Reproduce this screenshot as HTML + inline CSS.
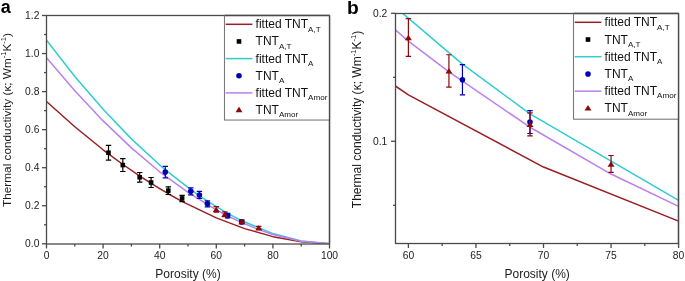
<!DOCTYPE html>
<html><head><meta charset="utf-8"><style>
html,body{margin:0;padding:0;background:#fff;width:685px;height:281px;overflow:hidden}
svg{display:block;will-change:transform}
text{font-family:"Liberation Sans", sans-serif}
</style></head><body>
<svg width="685" height="281" viewBox="0 0 685 281">
<rect x="0" y="0" width="685" height="281" fill="#fff"/>
<clipPath id="cl"><rect x="46.5" y="15.5" width="283.0" height="228.5"/></clipPath>
<polyline points="46.50,101.49 74.80,126.79 103.10,149.79 108.48,153.90 122.91,164.50 139.89,176.18 151.21,183.49 159.70,188.72 168.19,193.72 182.34,201.58 216.30,217.87 244.60,228.60 272.90,236.65 301.20,241.83 329.50,243.80" fill="none" stroke="#9a1f24" stroke-width="1.5" clip-path="url(#cl)" stroke-linejoin="round"/>
<polyline points="46.50,40.23 74.80,76.42 103.10,109.32 131.40,138.87 159.70,165.00 165.36,169.81 190.83,189.71 199.32,195.70 207.81,201.37 227.62,213.30 241.77,220.70 272.90,233.57 301.20,240.98 329.50,243.80" fill="none" stroke="#2fcdd0" stroke-width="1.5" clip-path="url(#cl)" stroke-linejoin="round"/>
<polyline points="46.50,57.74 74.80,90.82 103.10,120.89 131.40,147.89 159.70,171.78 188.00,192.47 216.30,209.89 224.79,214.47 241.77,222.68 258.75,229.64 272.90,234.45 301.20,241.22 329.50,243.80" fill="none" stroke="#bb80ec" stroke-width="1.5" clip-path="url(#cl)" stroke-linejoin="round"/>
<g clip-path="url(#clb)"><line x1="108.50" y1="145.40" x2="108.50" y2="160.10" stroke="#000" stroke-width="1.2"/><line x1="105.80" y1="145.40" x2="111.20" y2="145.40" stroke="#000" stroke-width="1.2"/><line x1="105.80" y1="160.10" x2="111.20" y2="160.10" stroke="#000" stroke-width="1.2"/><line x1="122.80" y1="158.60" x2="122.80" y2="171.50" stroke="#000" stroke-width="1.2"/><line x1="120.10" y1="158.60" x2="125.50" y2="158.60" stroke="#000" stroke-width="1.2"/><line x1="120.10" y1="171.50" x2="125.50" y2="171.50" stroke="#000" stroke-width="1.2"/><line x1="139.70" y1="172.50" x2="139.70" y2="182.10" stroke="#000" stroke-width="1.2"/><line x1="137.00" y1="172.50" x2="142.40" y2="172.50" stroke="#000" stroke-width="1.2"/><line x1="137.00" y1="182.10" x2="142.40" y2="182.10" stroke="#000" stroke-width="1.2"/><line x1="151.10" y1="177.50" x2="151.10" y2="187.50" stroke="#000" stroke-width="1.2"/><line x1="148.40" y1="177.50" x2="153.80" y2="177.50" stroke="#000" stroke-width="1.2"/><line x1="148.40" y1="187.50" x2="153.80" y2="187.50" stroke="#000" stroke-width="1.2"/><line x1="168.30" y1="186.80" x2="168.30" y2="194.50" stroke="#000" stroke-width="1.2"/><line x1="165.60" y1="186.80" x2="171.00" y2="186.80" stroke="#000" stroke-width="1.2"/><line x1="165.60" y1="194.50" x2="171.00" y2="194.50" stroke="#000" stroke-width="1.2"/><line x1="182.10" y1="195.30" x2="182.10" y2="201.60" stroke="#000" stroke-width="1.2"/><line x1="179.40" y1="195.30" x2="184.80" y2="195.30" stroke="#000" stroke-width="1.2"/><line x1="179.40" y1="201.60" x2="184.80" y2="201.60" stroke="#000" stroke-width="1.2"/><rect x="106.20" y="150.45" width="4.6" height="4.6" fill="#000"/><rect x="120.50" y="162.75" width="4.6" height="4.6" fill="#000"/><rect x="137.40" y="175.00" width="4.6" height="4.6" fill="#000"/><rect x="148.80" y="180.20" width="4.6" height="4.6" fill="#000"/><rect x="166.00" y="188.35" width="4.6" height="4.6" fill="#000"/><rect x="179.80" y="196.15" width="4.6" height="4.6" fill="#000"/><line x1="165.30" y1="166.40" x2="165.30" y2="177.80" stroke="#0000b4" stroke-width="1.2"/><line x1="162.60" y1="166.40" x2="168.00" y2="166.40" stroke="#0000b4" stroke-width="1.2"/><line x1="162.60" y1="177.80" x2="168.00" y2="177.80" stroke="#0000b4" stroke-width="1.2"/><line x1="190.80" y1="187.80" x2="190.80" y2="194.80" stroke="#0000b4" stroke-width="1.2"/><line x1="188.10" y1="187.80" x2="193.50" y2="187.80" stroke="#0000b4" stroke-width="1.2"/><line x1="188.10" y1="194.80" x2="193.50" y2="194.80" stroke="#0000b4" stroke-width="1.2"/><line x1="199.40" y1="191.40" x2="199.40" y2="198.50" stroke="#0000b4" stroke-width="1.2"/><line x1="196.70" y1="191.40" x2="202.10" y2="191.40" stroke="#0000b4" stroke-width="1.2"/><line x1="196.70" y1="198.50" x2="202.10" y2="198.50" stroke="#0000b4" stroke-width="1.2"/><line x1="207.40" y1="200.80" x2="207.40" y2="206.80" stroke="#0000b4" stroke-width="1.2"/><line x1="204.70" y1="200.80" x2="210.10" y2="200.80" stroke="#0000b4" stroke-width="1.2"/><line x1="204.70" y1="206.80" x2="210.10" y2="206.80" stroke="#0000b4" stroke-width="1.2"/><line x1="227.62" y1="213.38" x2="227.62" y2="217.87" stroke="#0000b4" stroke-width="1.2"/><line x1="224.92" y1="213.38" x2="230.32" y2="213.38" stroke="#0000b4" stroke-width="1.2"/><line x1="224.92" y1="217.87" x2="230.32" y2="217.87" stroke="#0000b4" stroke-width="1.2"/><line x1="241.77" y1="220.23" x2="241.77" y2="223.61" stroke="#0000b4" stroke-width="1.2"/><line x1="239.07" y1="220.23" x2="244.47" y2="220.23" stroke="#0000b4" stroke-width="1.2"/><line x1="239.07" y1="223.61" x2="244.47" y2="223.61" stroke="#0000b4" stroke-width="1.2"/><circle cx="165.30" cy="172.10" r="2.8" fill="#0000b4"/><circle cx="190.80" cy="191.30" r="2.8" fill="#0000b4"/><circle cx="199.40" cy="194.95" r="2.8" fill="#0000b4"/><circle cx="207.40" cy="203.80" r="2.8" fill="#0000b4"/><circle cx="227.62" cy="215.62" r="2.8" fill="#0000b4"/><circle cx="241.77" cy="221.92" r="2.8" fill="#0000b4"/><line x1="216.30" y1="206.55" x2="216.30" y2="212.14" stroke="#8c0a0a" stroke-width="1.2"/><line x1="213.60" y1="206.55" x2="219.00" y2="206.55" stroke="#8c0a0a" stroke-width="1.2"/><line x1="213.60" y1="212.14" x2="219.00" y2="212.14" stroke="#8c0a0a" stroke-width="1.2"/><line x1="224.79" y1="211.91" x2="224.79" y2="216.71" stroke="#8c0a0a" stroke-width="1.2"/><line x1="222.09" y1="211.91" x2="227.49" y2="211.91" stroke="#8c0a0a" stroke-width="1.2"/><line x1="222.09" y1="216.71" x2="227.49" y2="216.71" stroke="#8c0a0a" stroke-width="1.2"/><line x1="241.77" y1="219.73" x2="241.77" y2="223.16" stroke="#8c0a0a" stroke-width="1.2"/><line x1="239.07" y1="219.73" x2="244.47" y2="219.73" stroke="#8c0a0a" stroke-width="1.2"/><line x1="239.07" y1="223.16" x2="244.47" y2="223.16" stroke="#8c0a0a" stroke-width="1.2"/><line x1="258.75" y1="226.47" x2="258.75" y2="228.98" stroke="#8c0a0a" stroke-width="1.2"/><line x1="256.05" y1="226.47" x2="261.45" y2="226.47" stroke="#8c0a0a" stroke-width="1.2"/><line x1="256.05" y1="228.98" x2="261.45" y2="228.98" stroke="#8c0a0a" stroke-width="1.2"/><polygon points="216.30,206.65 219.80,212.05 212.80,212.05" fill="#8c0a0a"/><polygon points="224.79,211.61 228.29,217.01 221.29,217.01" fill="#8c0a0a"/><polygon points="241.77,218.75 245.27,224.15 238.27,224.15" fill="#8c0a0a"/><polygon points="258.75,225.02 262.25,230.42 255.25,230.42" fill="#8c0a0a"/></g>
<clipPath id="clb"><rect x="46.5" y="15.0" width="283.0" height="229.5"/></clipPath>
<rect x="46.5" y="15.5" width="283.0" height="228.5" fill="none" stroke="#4a4a4a" stroke-width="1.3"/>
<line x1="46.50" y1="244.00" x2="46.50" y2="248.50" stroke="#4a4a4a" stroke-width="1.3" />
<text x="46.50" y="259.40" font-size="10.3" text-anchor="middle" font-weight="normal" fill="#222" >0</text>
<line x1="103.10" y1="244.00" x2="103.10" y2="248.50" stroke="#4a4a4a" stroke-width="1.3" />
<text x="103.10" y="259.40" font-size="10.3" text-anchor="middle" font-weight="normal" fill="#222" >20</text>
<line x1="159.70" y1="244.00" x2="159.70" y2="248.50" stroke="#4a4a4a" stroke-width="1.3" />
<text x="159.70" y="259.40" font-size="10.3" text-anchor="middle" font-weight="normal" fill="#222" >40</text>
<line x1="216.30" y1="244.00" x2="216.30" y2="248.50" stroke="#4a4a4a" stroke-width="1.3" />
<text x="216.30" y="259.40" font-size="10.3" text-anchor="middle" font-weight="normal" fill="#222" >60</text>
<line x1="272.90" y1="244.00" x2="272.90" y2="248.50" stroke="#4a4a4a" stroke-width="1.3" />
<text x="272.90" y="259.40" font-size="10.3" text-anchor="middle" font-weight="normal" fill="#222" >80</text>
<line x1="329.50" y1="244.00" x2="329.50" y2="248.50" stroke="#4a4a4a" stroke-width="1.3" />
<text x="329.50" y="259.40" font-size="10.3" text-anchor="middle" font-weight="normal" fill="#222" >100</text>
<line x1="74.80" y1="244.00" x2="74.80" y2="246.50" stroke="#4a4a4a" stroke-width="1.3" />
<line x1="131.40" y1="244.00" x2="131.40" y2="246.50" stroke="#4a4a4a" stroke-width="1.3" />
<line x1="188.00" y1="244.00" x2="188.00" y2="246.50" stroke="#4a4a4a" stroke-width="1.3" />
<line x1="244.60" y1="244.00" x2="244.60" y2="246.50" stroke="#4a4a4a" stroke-width="1.3" />
<line x1="301.20" y1="244.00" x2="301.20" y2="246.50" stroke="#4a4a4a" stroke-width="1.3" />
<line x1="42.00" y1="243.80" x2="46.50" y2="243.80" stroke="#4a4a4a" stroke-width="1.3" />
<text x="39.40" y="247.40" font-size="10.3" text-anchor="end" font-weight="normal" fill="#222" >0.0</text>
<line x1="42.00" y1="205.75" x2="46.50" y2="205.75" stroke="#4a4a4a" stroke-width="1.3" />
<text x="39.40" y="209.35" font-size="10.3" text-anchor="end" font-weight="normal" fill="#222" >0.2</text>
<line x1="42.00" y1="167.70" x2="46.50" y2="167.70" stroke="#4a4a4a" stroke-width="1.3" />
<text x="39.40" y="171.30" font-size="10.3" text-anchor="end" font-weight="normal" fill="#222" >0.4</text>
<line x1="42.00" y1="129.65" x2="46.50" y2="129.65" stroke="#4a4a4a" stroke-width="1.3" />
<text x="39.40" y="133.25" font-size="10.3" text-anchor="end" font-weight="normal" fill="#222" >0.6</text>
<line x1="42.00" y1="91.60" x2="46.50" y2="91.60" stroke="#4a4a4a" stroke-width="1.3" />
<text x="39.40" y="95.20" font-size="10.3" text-anchor="end" font-weight="normal" fill="#222" >0.8</text>
<line x1="42.00" y1="53.55" x2="46.50" y2="53.55" stroke="#4a4a4a" stroke-width="1.3" />
<text x="39.40" y="57.15" font-size="10.3" text-anchor="end" font-weight="normal" fill="#222" >1.0</text>
<line x1="42.00" y1="15.50" x2="46.50" y2="15.50" stroke="#4a4a4a" stroke-width="1.3" />
<text x="39.40" y="19.10" font-size="10.3" text-anchor="end" font-weight="normal" fill="#222" >1.2</text>
<line x1="44.00" y1="224.78" x2="46.50" y2="224.78" stroke="#4a4a4a" stroke-width="1.3" />
<line x1="44.00" y1="186.73" x2="46.50" y2="186.73" stroke="#4a4a4a" stroke-width="1.3" />
<line x1="44.00" y1="148.68" x2="46.50" y2="148.68" stroke="#4a4a4a" stroke-width="1.3" />
<line x1="44.00" y1="110.63" x2="46.50" y2="110.63" stroke="#4a4a4a" stroke-width="1.3" />
<line x1="44.00" y1="72.58" x2="46.50" y2="72.58" stroke="#4a4a4a" stroke-width="1.3" />
<line x1="44.00" y1="34.53" x2="46.50" y2="34.53" stroke="#4a4a4a" stroke-width="1.3" />
<clipPath id="cr"><rect x="395.5" y="13.5" width="283.0" height="230.0"/></clipPath>
<polyline points="-402.20,-688.14 -267.10,-517.92 -132.00,-363.19 -106.33,-335.56 -37.43,-264.24 43.63,-185.64 97.67,-136.48 138.20,-101.31 178.73,-67.62 246.28,-14.78 408.40,94.82 543.50,167.06 678.60,221.17 813.70,256.02 948.80,269.30" fill="none" stroke="#9a1f24" stroke-width="1.5" clip-path="url(#cr)" stroke-linejoin="round"/>
<polyline points="-402.20,-1100.30 -267.10,-856.80 -132.00,-635.46 3.10,-436.67 138.20,-260.85 165.22,-228.49 286.81,-94.60 327.34,-54.29 367.87,-16.18 462.44,64.09 529.99,113.87 678.60,200.45 813.70,250.31 948.80,269.30" fill="none" stroke="#2fcdd0" stroke-width="1.5" clip-path="url(#cr)" stroke-linejoin="round"/>
<polyline points="-402.20,-982.54 -267.10,-759.97 -132.00,-557.67 3.10,-375.97 138.20,-215.27 273.30,-76.03 408.40,41.17 448.93,71.94 529.99,127.23 611.05,174.04 678.60,206.37 813.70,251.94 948.80,269.30" fill="none" stroke="#bb80ec" stroke-width="1.5" clip-path="url(#cr)" stroke-linejoin="round"/>
<g clip-path="url(#crb)"><line x1="-106.22" y1="-392.73" x2="-106.22" y2="-293.83" stroke="#000" stroke-width="1.2"/><line x1="-108.92" y1="-392.73" x2="-103.52" y2="-392.73" stroke="#000" stroke-width="1.2"/><line x1="-108.92" y1="-293.83" x2="-103.52" y2="-293.83" stroke="#000" stroke-width="1.2"/><line x1="-37.96" y1="-303.92" x2="-37.96" y2="-217.13" stroke="#000" stroke-width="1.2"/><line x1="-40.66" y1="-303.92" x2="-35.26" y2="-303.92" stroke="#000" stroke-width="1.2"/><line x1="-40.66" y1="-217.13" x2="-35.26" y2="-217.13" stroke="#000" stroke-width="1.2"/><line x1="42.72" y1="-210.41" x2="42.72" y2="-145.82" stroke="#000" stroke-width="1.2"/><line x1="40.02" y1="-210.41" x2="45.42" y2="-210.41" stroke="#000" stroke-width="1.2"/><line x1="40.02" y1="-145.82" x2="45.42" y2="-145.82" stroke="#000" stroke-width="1.2"/><line x1="97.14" y1="-176.77" x2="97.14" y2="-109.49" stroke="#000" stroke-width="1.2"/><line x1="94.44" y1="-176.77" x2="99.84" y2="-176.77" stroke="#000" stroke-width="1.2"/><line x1="94.44" y1="-109.49" x2="99.84" y2="-109.49" stroke="#000" stroke-width="1.2"/><line x1="179.26" y1="-114.20" x2="179.26" y2="-62.39" stroke="#000" stroke-width="1.2"/><line x1="176.56" y1="-114.20" x2="181.96" y2="-114.20" stroke="#000" stroke-width="1.2"/><line x1="176.56" y1="-62.39" x2="181.96" y2="-62.39" stroke="#000" stroke-width="1.2"/><line x1="245.13" y1="-57.01" x2="245.13" y2="-14.62" stroke="#000" stroke-width="1.2"/><line x1="242.43" y1="-57.01" x2="247.83" y2="-57.01" stroke="#000" stroke-width="1.2"/><line x1="242.43" y1="-14.62" x2="247.83" y2="-14.62" stroke="#000" stroke-width="1.2"/><rect x="-108.52" y="-345.58" width="4.6" height="4.6" fill="#000"/><rect x="-40.26" y="-262.83" width="4.6" height="4.6" fill="#000"/><rect x="40.42" y="-180.41" width="4.6" height="4.6" fill="#000"/><rect x="94.84" y="-145.43" width="4.6" height="4.6" fill="#000"/><rect x="176.96" y="-90.59" width="4.6" height="4.6" fill="#000"/><rect x="242.83" y="-38.11" width="4.6" height="4.6" fill="#000"/><line x1="164.93" y1="-251.45" x2="164.93" y2="-174.75" stroke="#0000b4" stroke-width="1.2"/><line x1="162.23" y1="-251.45" x2="167.63" y2="-251.45" stroke="#0000b4" stroke-width="1.2"/><line x1="162.23" y1="-174.75" x2="167.63" y2="-174.75" stroke="#0000b4" stroke-width="1.2"/><line x1="286.67" y1="-107.47" x2="286.67" y2="-60.37" stroke="#0000b4" stroke-width="1.2"/><line x1="283.97" y1="-107.47" x2="289.37" y2="-107.47" stroke="#0000b4" stroke-width="1.2"/><line x1="283.97" y1="-60.37" x2="289.37" y2="-60.37" stroke="#0000b4" stroke-width="1.2"/><line x1="327.72" y1="-83.25" x2="327.72" y2="-35.48" stroke="#0000b4" stroke-width="1.2"/><line x1="325.02" y1="-83.25" x2="330.42" y2="-83.25" stroke="#0000b4" stroke-width="1.2"/><line x1="325.02" y1="-35.48" x2="330.42" y2="-35.48" stroke="#0000b4" stroke-width="1.2"/><line x1="365.91" y1="-20.00" x2="365.91" y2="20.36" stroke="#0000b4" stroke-width="1.2"/><line x1="363.21" y1="-20.00" x2="368.61" y2="-20.00" stroke="#0000b4" stroke-width="1.2"/><line x1="363.21" y1="20.36" x2="368.61" y2="20.36" stroke="#0000b4" stroke-width="1.2"/><line x1="462.44" y1="64.63" x2="462.44" y2="94.84" stroke="#0000b4" stroke-width="1.2"/><line x1="459.74" y1="64.63" x2="465.14" y2="64.63" stroke="#0000b4" stroke-width="1.2"/><line x1="459.74" y1="94.84" x2="465.14" y2="94.84" stroke="#0000b4" stroke-width="1.2"/><line x1="529.99" y1="110.71" x2="529.99" y2="133.49" stroke="#0000b4" stroke-width="1.2"/><line x1="527.29" y1="110.71" x2="532.69" y2="110.71" stroke="#0000b4" stroke-width="1.2"/><line x1="527.29" y1="133.49" x2="532.69" y2="133.49" stroke="#0000b4" stroke-width="1.2"/><circle cx="164.93" cy="-213.10" r="2.8" fill="#0000b4"/><circle cx="286.67" cy="-83.92" r="2.8" fill="#0000b4"/><circle cx="327.72" cy="-59.36" r="2.8" fill="#0000b4"/><circle cx="365.91" cy="0.18" r="2.8" fill="#0000b4"/><circle cx="462.44" cy="79.73" r="2.8" fill="#0000b4"/><circle cx="529.99" cy="122.10" r="2.8" fill="#0000b4"/><line x1="408.40" y1="18.68" x2="408.40" y2="56.31" stroke="#8c0a0a" stroke-width="1.2"/><line x1="405.70" y1="18.68" x2="411.10" y2="18.68" stroke="#8c0a0a" stroke-width="1.2"/><line x1="405.70" y1="56.31" x2="411.10" y2="56.31" stroke="#8c0a0a" stroke-width="1.2"/><line x1="448.93" y1="54.77" x2="448.93" y2="87.03" stroke="#8c0a0a" stroke-width="1.2"/><line x1="446.23" y1="54.77" x2="451.63" y2="54.77" stroke="#8c0a0a" stroke-width="1.2"/><line x1="446.23" y1="87.03" x2="451.63" y2="87.03" stroke="#8c0a0a" stroke-width="1.2"/><line x1="529.99" y1="112.88" x2="529.99" y2="135.92" stroke="#8c0a0a" stroke-width="1.2"/><line x1="527.29" y1="112.88" x2="532.69" y2="112.88" stroke="#8c0a0a" stroke-width="1.2"/><line x1="527.29" y1="135.92" x2="532.69" y2="135.92" stroke="#8c0a0a" stroke-width="1.2"/><line x1="611.05" y1="155.51" x2="611.05" y2="172.40" stroke="#8c0a0a" stroke-width="1.2"/><line x1="608.35" y1="155.51" x2="613.75" y2="155.51" stroke="#8c0a0a" stroke-width="1.2"/><line x1="608.35" y1="172.40" x2="613.75" y2="172.40" stroke="#8c0a0a" stroke-width="1.2"/><polygon points="408.40,34.79 411.90,40.19 404.90,40.19" fill="#8c0a0a"/><polygon points="448.93,68.20 452.43,73.60 445.43,73.60" fill="#8c0a0a"/><polygon points="529.99,121.70 533.49,127.10 526.49,127.10" fill="#8c0a0a"/><polygon points="611.05,161.26 614.55,166.66 607.55,166.66" fill="#8c0a0a"/></g>
<clipPath id="crb"><rect x="395.5" y="13.0" width="283.0" height="231.0"/></clipPath>
<rect x="395.5" y="13.5" width="283.0" height="230.0" fill="none" stroke="#4a4a4a" stroke-width="1.3"/>
<line x1="408.40" y1="243.50" x2="408.40" y2="248.00" stroke="#4a4a4a" stroke-width="1.3" />
<text x="408.40" y="259.20" font-size="10.3" text-anchor="middle" font-weight="normal" fill="#222" >60</text>
<line x1="475.95" y1="243.50" x2="475.95" y2="248.00" stroke="#4a4a4a" stroke-width="1.3" />
<text x="475.95" y="259.20" font-size="10.3" text-anchor="middle" font-weight="normal" fill="#222" >65</text>
<line x1="543.50" y1="243.50" x2="543.50" y2="248.00" stroke="#4a4a4a" stroke-width="1.3" />
<text x="543.50" y="259.20" font-size="10.3" text-anchor="middle" font-weight="normal" fill="#222" >70</text>
<line x1="611.05" y1="243.50" x2="611.05" y2="248.00" stroke="#4a4a4a" stroke-width="1.3" />
<text x="611.05" y="259.20" font-size="10.3" text-anchor="middle" font-weight="normal" fill="#222" >75</text>
<line x1="678.60" y1="243.50" x2="678.60" y2="248.00" stroke="#4a4a4a" stroke-width="1.3" />
<text x="678.60" y="259.20" font-size="10.3" text-anchor="middle" font-weight="normal" fill="#222" >80</text>
<line x1="442.17" y1="243.50" x2="442.17" y2="246.00" stroke="#4a4a4a" stroke-width="1.3" />
<line x1="509.72" y1="243.50" x2="509.72" y2="246.00" stroke="#4a4a4a" stroke-width="1.3" />
<line x1="577.27" y1="243.50" x2="577.27" y2="246.00" stroke="#4a4a4a" stroke-width="1.3" />
<line x1="644.82" y1="243.50" x2="644.82" y2="246.00" stroke="#4a4a4a" stroke-width="1.3" />
<line x1="391.00" y1="141.30" x2="395.50" y2="141.30" stroke="#4a4a4a" stroke-width="1.3" />
<text x="387.30" y="144.90" font-size="10.3" text-anchor="end" font-weight="normal" fill="#222" >0.1</text>
<line x1="391.00" y1="13.30" x2="395.50" y2="13.30" stroke="#4a4a4a" stroke-width="1.3" />
<text x="387.30" y="16.90" font-size="10.3" text-anchor="end" font-weight="normal" fill="#222" >0.2</text>
<line x1="393.00" y1="205.30" x2="395.50" y2="205.30" stroke="#4a4a4a" stroke-width="1.3" />
<line x1="393.00" y1="77.30" x2="395.50" y2="77.30" stroke="#4a4a4a" stroke-width="1.3" />
<rect x="224.5" y="15.5" width="105.0" height="104.55" fill="#fff" stroke="#7a7a7a" stroke-width="1.1"/>
<line x1="225.70" y1="24.30" x2="252.40" y2="24.30" stroke="#9a1f24" stroke-width="1.5" />
<text x="255.60" y="28.30" font-size="12" fill="#111">fitted TNT<tspan font-size="8.1" dy="3.3">A,T</tspan></text>
<rect x="236.70" y="39.15" width="4.6" height="4.6" fill="#000"/>
<text x="255.60" y="45.45" font-size="12" fill="#111">TNT<tspan font-size="8.1" dy="3.3">A,T</tspan></text>
<line x1="225.70" y1="58.60" x2="252.40" y2="58.60" stroke="#2fcdd0" stroke-width="1.5" />
<text x="255.60" y="62.60" font-size="12" fill="#111">fitted TNT<tspan font-size="8.1" dy="3.3">A</tspan></text>
<circle cx="239.00" cy="75.75" r="2.8" fill="#0000b4"/>
<text x="255.60" y="79.75" font-size="12" fill="#111">TNT<tspan font-size="8.1" dy="3.3">A</tspan></text>
<line x1="225.70" y1="92.90" x2="252.40" y2="92.90" stroke="#bb80ec" stroke-width="1.5" />
<text x="255.60" y="96.90" font-size="12" fill="#111">fitted TNT<tspan font-size="8.1" dy="3.3">Amor</tspan></text>
<polygon points="239.00,106.75 242.50,112.15 235.50,112.15" fill="#8c0a0a"/>
<text x="255.60" y="114.05" font-size="12" fill="#111">TNT<tspan font-size="8.1" dy="3.3">Amor</tspan></text>
<rect x="573.5" y="13.5" width="105.0" height="105.7" fill="#fff" stroke="#7a7a7a" stroke-width="1.1"/>
<line x1="574.70" y1="22.30" x2="601.40" y2="22.30" stroke="#9a1f24" stroke-width="1.5" />
<text x="604.60" y="26.30" font-size="12" fill="#111">fitted TNT<tspan font-size="8.1" dy="3.3">A,T</tspan></text>
<rect x="585.70" y="37.22" width="4.6" height="4.6" fill="#000"/>
<text x="604.60" y="43.52" font-size="12" fill="#111">TNT<tspan font-size="8.1" dy="3.3">A,T</tspan></text>
<line x1="574.70" y1="56.74" x2="601.40" y2="56.74" stroke="#2fcdd0" stroke-width="1.5" />
<text x="604.60" y="60.74" font-size="12" fill="#111">fitted TNT<tspan font-size="8.1" dy="3.3">A</tspan></text>
<circle cx="588.00" cy="73.96" r="2.8" fill="#0000b4"/>
<text x="604.60" y="77.96" font-size="12" fill="#111">TNT<tspan font-size="8.1" dy="3.3">A</tspan></text>
<line x1="574.70" y1="91.18" x2="601.40" y2="91.18" stroke="#bb80ec" stroke-width="1.5" />
<text x="604.60" y="95.18" font-size="12" fill="#111">fitted TNT<tspan font-size="8.1" dy="3.3">Amor</tspan></text>
<polygon points="588.00,105.10 591.50,110.50 584.50,110.50" fill="#8c0a0a"/>
<text x="604.60" y="112.40" font-size="12" fill="#111">TNT<tspan font-size="8.1" dy="3.3">Amor</tspan></text>
<line x1="224.50" y1="15.50" x2="329.50" y2="15.50" stroke="#4a4a4a" stroke-width="1.3" />
<line x1="329.50" y1="15.50" x2="329.50" y2="244.00" stroke="#4a4a4a" stroke-width="1.3" />
<line x1="573.50" y1="13.50" x2="678.50" y2="13.50" stroke="#4a4a4a" stroke-width="1.3" />
<line x1="678.50" y1="13.50" x2="678.50" y2="243.50" stroke="#4a4a4a" stroke-width="1.3" />
<text x="0.80" y="13.40" font-size="18" text-anchor="start" font-weight="bold" fill="#000" >a</text>
<text x="347.05" y="13.90" font-size="19.2" text-anchor="start" font-weight="bold" fill="#000" >b</text>
<text x="188.00" y="277.70" font-size="12" text-anchor="middle" font-weight="normal" fill="#222" >Porosity (%)</text>
<text x="537.20" y="277.50" font-size="12" text-anchor="middle" font-weight="normal" fill="#222" >Porosity (%)</text>
<text transform="translate(11.4,207.0) rotate(-90)" font-size="11.8" fill="#1a1a1a">Thermal conductivity (κ; Wm<tspan font-size="7.5" dy="-5">-1</tspan><tspan dy="5">K</tspan><tspan font-size="7.5" dy="-5">-1</tspan><tspan dy="5">)</tspan></text>
<text transform="translate(360.6,208.2) rotate(-90)" font-size="12.05" fill="#1a1a1a">Thermal conductivity (κ; Wm<tspan font-size="7.5" dy="-5">-1</tspan><tspan dy="5">K</tspan><tspan font-size="7.5" dy="-5">-1</tspan><tspan dy="5">)</tspan></text>
</svg></body></html>
